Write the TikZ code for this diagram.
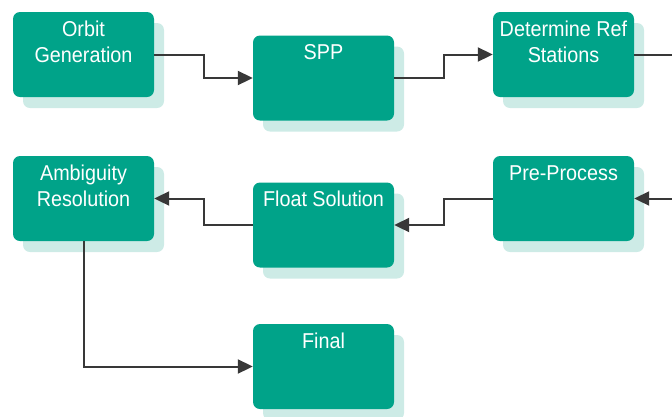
\documentclass[tikz,border=0pt]{standalone}
\usepackage{fontspec}
\setmainfont[FakeStretch=0.92]{Liberation Sans}
\usetikzlibrary{arrows.meta,shadows,calc}
\definecolor{boxfill}{HTML}{00A389}
\definecolor{boxshade}{HTML}{CDEBE6}
\definecolor{wire}{HTML}{383838}
\newcommand{\boxtext}[1]{\parbox[c][85pt][t]{141pt}{\centering\fontsize{21.5}{26.5}\selectfont\rule{0pt}{24pt}#1}}
\tikzset{
  stage/.style={rectangle, rounded corners=7pt, fill=boxfill, text=white,
    minimum width=141pt, minimum height=85pt, inner sep=0pt,
    general shadow={fill=boxshade, shadow xshift=10pt, shadow yshift=-11pt}},
  link/.style={draw=wire, line width=2pt, -{Triangle[length=15pt,width=14pt]}}
}
\begin{document}
\begin{tikzpicture}[x=1pt,y=-1pt]
\useasboundingbox (0,0) rectangle (672,416);
% pipeline stages
\node[stage] (orbit) at (83.5,54.5) {\boxtext{Orbit\\Generation}};
\node[stage] (spp) at (323.5,78) {\boxtext{SPP}};
\node[stage] (ref) at (563.5,54.5) {\boxtext{Determine Ref\\Stations}};
\node[stage] (amb) at (83.5,198.5) {\boxtext{Ambiguity\\Resolution}};
\node[stage] (float) at (323.5,225) {\boxtext{Float Solution}};
\node[stage] (pre) at (563.5,198.5) {\boxtext{Pre-Process}};
\node[stage] (final) at (323.5,366.5) {\boxtext{Final}};
% elbow connectors between stages
\draw[link] (orbit.east) -| ($(orbit.east)!.5!(spp.west)$) |- (spp.west);
\draw[link] (spp.east) -| ($(spp.east)!.5!(ref.west)$) |- (ref.west);
\draw[link] (ref.east) -- ++(50,0) |- (pre.east);
\draw[link] (pre.west) -| ($(pre.west)!.5!(float.east)$) |- (float.east);
\draw[link] (float.west) -| ($(float.west)!.5!(amb.east)$) |- (amb.east);
\draw[link] (amb.south) |- (final.west);
\end{tikzpicture}
\end{document}
